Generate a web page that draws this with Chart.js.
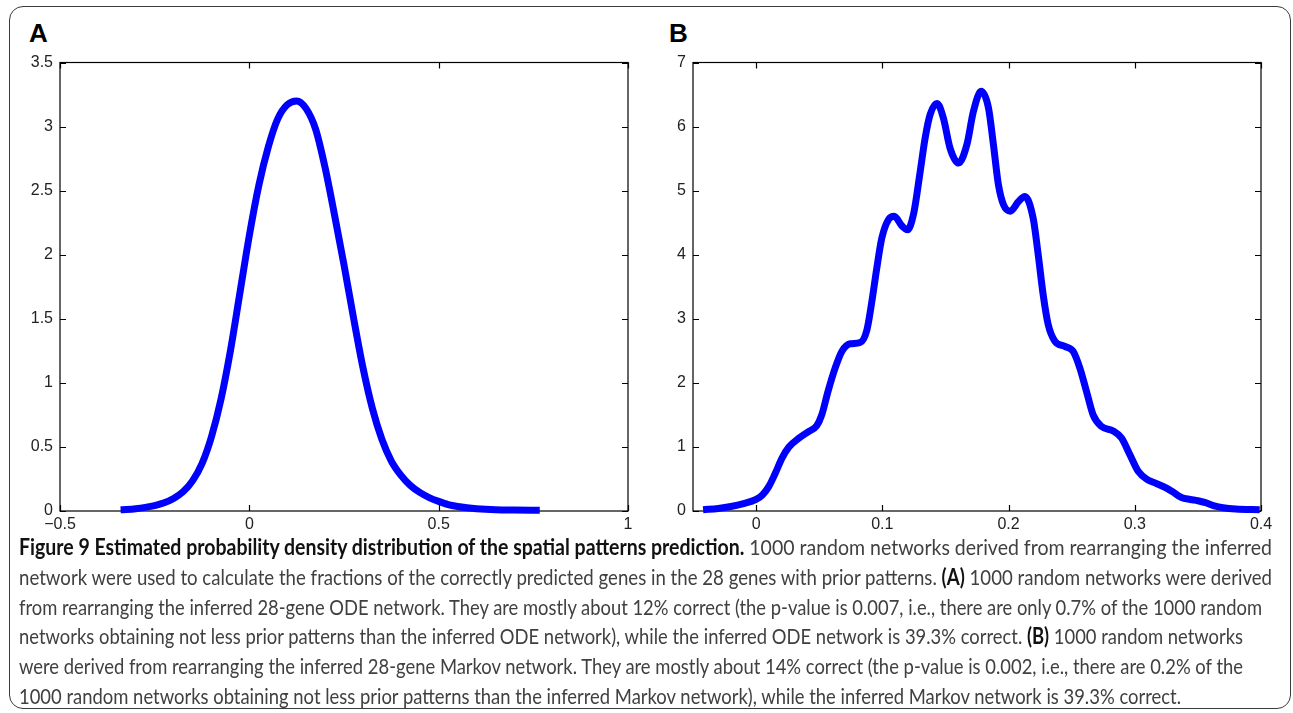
<!DOCTYPE html>
<html>
<head>
<meta charset="utf-8">
<script src="https://cdn.jsdelivr.net/npm/chart.js@4.4.1/dist/chart.umd.min.js"></script>
<style>
    html, body { margin: 0; padding: 0; background: #fff; }
    body { width: 1293px; height: 713px; position: relative; overflow: hidden; }
    .frame {
        position: absolute; left: 9px; top: 6px; width: 1282px; height: 703px;
        box-sizing: border-box; border: 1.6px solid #3a3a3a; border-radius: 14px;
    }
    .panel-label {
        position: absolute; font: bold 26px "Liberation Sans", Arial, sans-serif;
        line-height: 26px; color: #000;
    }
    .chart-box { position: absolute; top: 52px; width: 630px; height: 490px; }
    .caption-line {
        position: absolute; left: 19px; white-space: nowrap;
        font: 22px Lato, "Open Sans", sans-serif; line-height: 22px; color: #404040;
        transform-origin: 0 0;
    }
    .caption-line b { color: #111; font-weight: bold; }
</style>
</head>
<body>
<div class="frame"></div>
<div class="panel-label" style="left:29px; top:20px;">A</div>
<div class="panel-label" style="left:669px; top:20px;">B</div>
<div class="chart-box" style="left:10px;"><canvas id="chartA" width="630" height="490"></canvas></div>
<div class="chart-box" style="left:643px;"><canvas id="chartB" width="630" height="490"></canvas></div>
<div id="caption"></div>

<script>
// Painel A: densidade estimada (rede ODE)
const densityAx = [-0.34, -0.325, -0.30, -0.275, -0.25, -0.225, -0.20, -0.175, -0.15, -0.125,
    -0.10, -0.075, -0.05, -0.025, 0, 0.025, 0.05, 0.075, 0.10, 0.125,
    0.15, 0.175, 0.20, 0.225, 0.25, 0.275, 0.30, 0.325, 0.35, 0.375,
    0.40, 0.425, 0.45, 0.475, 0.50, 0.525, 0.55, 0.575, 0.60, 0.65,
    0.70, 0.767];
const densityAy = [0.01, 0.012, 0.018, 0.028, 0.042, 0.064, 0.098, 0.15, 0.235, 0.37,
    0.58, 0.87, 1.25, 1.70, 2.15, 2.54, 2.84, 3.06, 3.17, 3.20,
    3.14, 2.98, 2.68, 2.31, 1.92, 1.51, 1.12, 0.80, 0.56, 0.39,
    0.28, 0.20, 0.145, 0.105, 0.075, 0.05, 0.035, 0.025, 0.018, 0.01,
    0.007, 0.005];
const xTicksA = [-0.5, 0, 0.5, 1];
const xTickLabelsA = ['\u22120.5', '0', '0.5', '1'];
const yTicksA = [0, 0.5, 1, 1.5, 2, 2.5, 3, 3.5];
const yTickLabelsA = ['0', '0.5', '1', '1.5', '2', '2.5', '3', '3.5'];

// Painel B: densidade estimada (rede Markov)
const densityBx = [-0.042, -0.03, -0.02, -0.01, 0, 0.005, 0.01, 0.015, 0.0206, 0.026,
    0.0335, 0.0415, 0.048, 0.052, 0.057, 0.0626, 0.0679, 0.0745, 0.0824, 0.0877,
    0.0917, 0.0956, 0.0996, 0.1049, 0.1094, 0.1155, 0.1199, 0.1247, 0.13, 0.1339,
    0.1379, 0.1434, 0.1484, 0.1537, 0.1603, 0.167, 0.1722, 0.1783, 0.1841, 0.188,
    0.192, 0.196, 0.2013, 0.2079, 0.2129, 0.2195, 0.2235, 0.2274, 0.2314, 0.2367,
    0.2446, 0.2512, 0.2565, 0.2617, 0.267, 0.2736, 0.2829, 0.2895, 0.2961, 0.3027,
    0.31, 0.317, 0.324, 0.33, 0.337, 0.344, 0.35, 0.356, 0.363, 0.37,
    0.38, 0.399];
const densityBy = [0.02, 0.04, 0.07, 0.115, 0.18, 0.25, 0.38, 0.58, 0.83, 1.0,
    1.13, 1.24, 1.33, 1.50, 1.87, 2.23, 2.49, 2.61, 2.63, 2.82,
    3.27, 3.79, 4.26, 4.55, 4.60, 4.45, 4.39, 4.63, 5.30, 5.82,
    6.19, 6.36, 6.13, 5.66, 5.43, 5.72, 6.24, 6.55, 6.29, 5.72,
    5.09, 4.78, 4.68, 4.83, 4.91, 4.57, 4.00, 3.38, 2.91, 2.65,
    2.57, 2.49, 2.23, 1.87, 1.50, 1.32, 1.25, 1.14, 0.88, 0.62,
    0.49, 0.43, 0.37, 0.30, 0.21, 0.18, 0.16, 0.13, 0.08, 0.05,
    0.03, 0.02];
const xTicksB = [0, 0.1, 0.2, 0.3, 0.4];
const xTickLabelsB = ['0', '0.1', '0.2', '0.3', '0.4'];
const yTicksB = [0, 1, 2, 3, 4, 5, 6, 7];
const yTickLabelsB = ['0', '1', '2', '3', '4', '5', '6', '7'];

// Legenda da figura, linha por linha, e onde cada linha termina
const captionLines = [
    '<b>Figure 9 Estimated probability density distribution of the spatial patterns prediction.</b> 1000 random networks derived from rearranging the inferred',
    'network were used to calculate the fractions of the correctly predicted genes in the 28 genes with prior patterns. <b>(A)</b> 1000 random networks were derived',
    'from rearranging the inferred 28-gene ODE network. They are mostly about 12% correct (the p-value is 0.007, i.e., there are only 0.7% of the 1000 random',
    'networks obtaining not less prior patterns than the inferred ODE network), while the inferred ODE network is 39.3% correct. <b>(B)</b> 1000 random networks',
    'were derived from rearranging the inferred 28-gene Markov network. They are mostly about 14% correct (the p-value is 0.002, i.e., there are 0.2% of the',
    '1000 random networks obtaining not less prior patterns than the inferred Markov network), while the inferred Markov network is 39.3% correct.'
];
const captionRightEdges = [1272, 1272, 1262, 1243, 1243, 1181];

// Caixa do eixo com marcas para dentro (estilo MATLAB)
const boxAxesPlugin = {
    id: 'boxAxes',
    beforeDatasetsDraw(chart) {
        const { ctx, chartArea: a, scales: { x, y } } = chart;
        const len = 6;
        ctx.save();
        ctx.strokeStyle = '#000';
        ctx.lineWidth = 1.2;
        ctx.strokeRect(a.left, a.top, a.width, a.height);
        ctx.beginPath();
        x.ticks.forEach(t => {
            const px = Math.round(x.getPixelForValue(t.value)) + 0.5;
            ctx.moveTo(px, a.bottom); ctx.lineTo(px, a.bottom - len);
            ctx.moveTo(px, a.top); ctx.lineTo(px, a.top + len);
        });
        y.ticks.forEach(t => {
            const py = Math.round(y.getPixelForValue(t.value)) + 0.5;
            ctx.moveTo(a.left, py); ctx.lineTo(a.left + len, py);
            ctx.moveTo(a.right, py); ctx.lineTo(a.right - len, py);
        });
        ctx.stroke();
        ctx.restore();
    }
};

const tickFont = { family: '"Liberation Sans", Arial, sans-serif', size: 16 };

function createDensityChart(canvasId, xs, ys, xRange, yRange, xTicks, xLabels, yTicks, yLabels) {
    return new Chart(document.getElementById(canvasId), {
        type: 'line',
        data: {
            datasets: [{
                data: xs.map((v, i) => ({ x: v, y: ys[i] })),
                borderColor: '#0000ff',
                borderWidth: 7,
                pointRadius: 0,
                cubicInterpolationMode: 'monotone',
                borderJoinStyle: 'round',
                borderCapStyle: 'butt',
                fill: false,
                clip: false
            }]
        },
        options: {
            responsive: false,
            animation: false,
            layout: { padding: { left: 0, right: 12, top: 10.5, bottom: 6 } },
            plugins: { legend: { display: false }, tooltip: { enabled: false } },
            scales: {
                x: {
                    type: 'linear',
                    min: xRange[0],
                    max: xRange[1],
                    afterBuildTicks: s => { s.ticks = xTicks.map(v => ({ value: v })); },
                    afterFit: s => { s.height = 25; s.paddingLeft = 0; s.paddingRight = 0; },
                    grid: { display: false, drawTicks: false },
                    border: { display: false },
                    ticks: {
                        callback: (v, i) => xLabels[i],
                        font: tickFont, color: '#222', padding: 4,
                        maxRotation: 0, autoSkip: false
                    }
                },
                y: {
                    type: 'linear',
                    min: yRange[0],
                    max: yRange[1],
                    afterBuildTicks: s => { s.ticks = yTicks.map(v => ({ value: v })); },
                    afterFit: s => { s.width = 50; s.paddingTop = 0; s.paddingBottom = 0; },
                    grid: { display: false, drawTicks: false },
                    border: { display: false },
                    ticks: {
                        callback: (v, i) => yLabels[i],
                        font: tickFont, color: '#222', padding: 7,
                        autoSkip: false
                    }
                }
            }
        },
        plugins: [boxAxesPlugin]
    });
}

createDensityChart('chartA', densityAx, densityAy, [-0.5, 1], [0, 3.5],
    xTicksA, xTickLabelsA, yTicksA, yTickLabelsA);
createDensityChart('chartB', densityBx, densityBy, [-0.05, 0.4], [0, 7],
    xTicksB, xTickLabelsB, yTicksB, yTickLabelsB);

// Monta a legenda e comprime cada linha até a largura original
const captionEl = document.getElementById('caption');
const lineEls = captionLines.map((html, i) => {
    const el = document.createElement('div');
    el.className = 'caption-line';
    el.innerHTML = html;
    el.style.top = (536 + i * 29.8) + 'px';
    captionEl.appendChild(el);
    return el;
});

function fitCaption() {
    lineEls.forEach((el, i) => {
        el.style.transform = 'none';
        const w = el.getBoundingClientRect().width;
        const target = captionRightEdges[i] - 19;
        el.style.transform = `scaleX(${target / w})`;
    });
}
fitCaption();
if (document.fonts) document.fonts.ready.then(fitCaption);
</script>
</body>
</html>
